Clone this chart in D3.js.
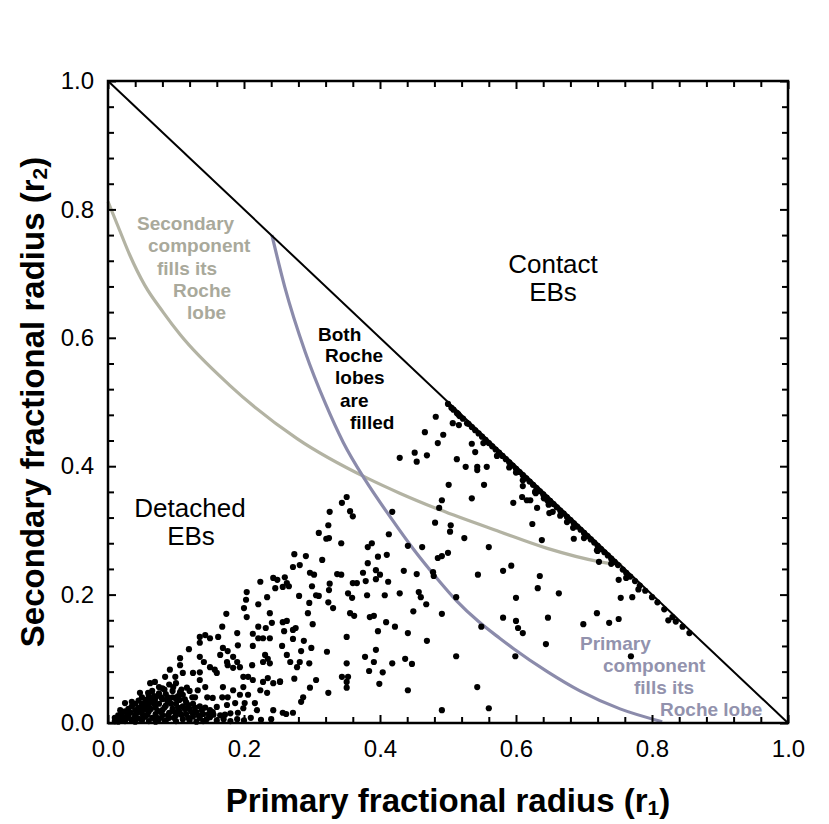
<!DOCTYPE html>
<html>
<head>
<meta charset="utf-8">
<script src="https://cdn.jsdelivr.net/npm/d3@7"></script>
<style>
  html, body { margin: 0; padding: 0; background: #fff; }
  svg { display: block; font-family: "Liberation Sans", Arial, Helvetica, sans-serif; }
</style>
</head>
<body>
<div id="chart"></div>
<script>
// Axis ticks (fractional radius)
const majorTicks = [0, 0.2, 0.4, 0.6, 0.8, 1.0];

// Contact limit r1 + r2 = 1
const contactLine = [[0, 1], [1, 0]];

// Secondary fills its Roche lobe
const secondaryLobe = [
  [0, 0.812], [0.015, 0.773], [0.032, 0.729], [0.054, 0.682], [0.081, 0.640],
  [0.106, 0.605], [0.179, 0.526], [0.278, 0.443], [0.382, 0.381], [0.429, 0.358],
  [0.488, 0.332], [0.576, 0.298], [0.646, 0.272], [0.724, 0.251], [0.756, 0.246]
];

// Primary fills its Roche lobe
const primaryLobe = [
  [0.241, 0.760], [0.260, 0.679], [0.290, 0.578], [0.320, 0.497], [0.346, 0.437],
  [0.378, 0.379], [0.415, 0.321], [0.449, 0.271], [0.484, 0.225], [0.513, 0.190],
  [0.545, 0.158], [0.576, 0.132], [0.596, 0.116], [0.646, 0.080], [0.694, 0.050],
  [0.753, 0.022], [0.815, 0.002]
];

// EBs hugging the contact line
const contactBand = [
  [0.505, 0.491], [0.515, 0.481], [0.522, 0.474], [0.530, 0.466], [0.535, 0.461],
  [0.540, 0.456], [0.545, 0.451], [0.550, 0.446], [0.555, 0.441], [0.560, 0.436],
  [0.565, 0.431], [0.570, 0.426], [0.575, 0.421], [0.580, 0.416], [0.585, 0.411],
  [0.590, 0.406], [0.595, 0.401], [0.600, 0.396], [0.605, 0.391], [0.610, 0.386],
  [0.615, 0.381], [0.620, 0.376], [0.625, 0.371], [0.630, 0.366], [0.635, 0.361],
  [0.640, 0.356], [0.645, 0.351], [0.650, 0.346], [0.655, 0.341], [0.660, 0.336],
  [0.665, 0.331], [0.670, 0.326], [0.675, 0.321], [0.680, 0.316], [0.685, 0.311],
  [0.690, 0.306], [0.695, 0.301], [0.700, 0.296], [0.705, 0.291], [0.710, 0.286],
  [0.715, 0.281], [0.720, 0.276], [0.725, 0.271], [0.730, 0.266], [0.735, 0.261],
  [0.740, 0.256], [0.745, 0.251], [0.750, 0.246], [0.757, 0.239], [0.762, 0.234],
  [0.768, 0.228], [0.775, 0.221], [0.782, 0.214], [0.790, 0.206], [0.800, 0.196],
  [0.808, 0.188], [0.818, 0.177], [0.830, 0.165], [0.845, 0.150], [0.855, 0.140],
  [0.552, 0.436], [0.572, 0.416], [0.590, 0.398], [0.610, 0.378], [0.628, 0.360],
  [0.648, 0.340], [0.665, 0.323], [0.684, 0.304], [0.700, 0.288], [0.720, 0.268],
  [0.740, 0.248], [0.762, 0.226], [0.780, 0.208], [0.600, 0.390], [0.675, 0.313]
];

// EBs in the upper-right part of the cloud
const upperCloud = [
  [0.500, 0.497], [0.508, 0.488], [0.513, 0.483], [0.517, 0.478], [0.482, 0.477],
  [0.507, 0.467], [0.516, 0.464], [0.528, 0.467], [0.466, 0.453], [0.493, 0.449],
  [0.485, 0.436], [0.535, 0.435], [0.540, 0.422], [0.451, 0.421], [0.469, 0.417],
  [0.454, 0.407], [0.429, 0.413], [0.513, 0.411], [0.526, 0.399], [0.543, 0.399],
  [0.557, 0.399], [0.543, 0.394], [0.501, 0.371], [0.553, 0.371], [0.491, 0.347],
  [0.535, 0.350], [0.487, 0.335], [0.481, 0.312], [0.504, 0.308], [0.503, 0.298],
  [0.524, 0.288], [0.560, 0.274], [0.462, 0.274], [0.441, 0.276], [0.485, 0.257],
  [0.491, 0.260], [0.500, 0.265], [0.435, 0.237], [0.454, 0.232], [0.478, 0.235],
  [0.479, 0.229], [0.544, 0.231], [0.581, 0.237], [0.593, 0.245], [0.635, 0.229],
  [0.632, 0.210], [0.610, 0.369], [0.609, 0.352], [0.616, 0.347], [0.621, 0.347],
  [0.629, 0.358], [0.631, 0.363], [0.641, 0.350], [0.646, 0.347], [0.631, 0.335],
  [0.649, 0.327], [0.654, 0.329], [0.596, 0.343], [0.624, 0.310], [0.638, 0.285],
  [0.685, 0.287], [0.719, 0.269], [0.722, 0.251], [0.751, 0.223], [0.754, 0.195],
  [0.771, 0.196], [0.719, 0.171], [0.699, 0.154], [0.737, 0.156], [0.751, 0.162],
  [0.824, 0.160], [0.835, 0.158], [0.663, 0.202], [0.600, 0.195], [0.581, 0.164],
  [0.600, 0.159], [0.603, 0.148], [0.610, 0.140], [0.549, 0.150], [0.647, 0.164],
  [0.644, 0.123], [0.599, 0.104], [0.769, 0.104], [0.560, 0.023]
];

// EBs in the middle of the cloud
const middleCloud = [
  [0.351, 0.352], [0.344, 0.343], [0.326, 0.329], [0.356, 0.330], [0.360, 0.322],
  [0.418, 0.329], [0.324, 0.308], [0.310, 0.296], [0.321, 0.287], [0.325, 0.288],
  [0.343, 0.280], [0.413, 0.294], [0.274, 0.263], [0.291, 0.260], [0.315, 0.254],
  [0.272, 0.243], [0.282, 0.246], [0.388, 0.280], [0.382, 0.274], [0.410, 0.262],
  [0.397, 0.259], [0.382, 0.249], [0.260, 0.227], [0.297, 0.234], [0.303, 0.231],
  [0.337, 0.232], [0.343, 0.231], [0.375, 0.234], [0.394, 0.238], [0.400, 0.231],
  [0.394, 0.224], [0.379, 0.221], [0.360, 0.218], [0.366, 0.218], [0.412, 0.220],
  [0.257, 0.212], [0.266, 0.213], [0.263, 0.218], [0.300, 0.213], [0.326, 0.217],
  [0.325, 0.207], [0.281, 0.198], [0.306, 0.199], [0.310, 0.198], [0.353, 0.202],
  [0.359, 0.195], [0.381, 0.199], [0.407, 0.199], [0.429, 0.202], [0.457, 0.204],
  [0.460, 0.196], [0.468, 0.185], [0.512, 0.196], [0.324, 0.188], [0.331, 0.179],
  [0.296, 0.187], [0.294, 0.171], [0.356, 0.171], [0.362, 0.167], [0.385, 0.165],
  [0.391, 0.167], [0.449, 0.174], [0.409, 0.157], [0.422, 0.150], [0.491, 0.170],
  [0.263, 0.159], [0.257, 0.157], [0.301, 0.154], [0.259, 0.143], [0.272, 0.145],
  [0.276, 0.148], [0.397, 0.143], [0.441, 0.140], [0.351, 0.134], [0.469, 0.128],
  [0.272, 0.131], [0.288, 0.128], [0.256, 0.120], [0.299, 0.117], [0.284, 0.112],
  [0.322, 0.111], [0.394, 0.114], [0.512, 0.104], [0.263, 0.106], [0.378, 0.103],
  [0.391, 0.095], [0.418, 0.093], [0.437, 0.100], [0.447, 0.092], [0.282, 0.095],
  [0.278, 0.087], [0.296, 0.093], [0.351, 0.093], [0.384, 0.081], [0.404, 0.079],
  [0.344, 0.072], [0.353, 0.072], [0.351, 0.064], [0.274, 0.069], [0.306, 0.067],
  [0.253, 0.065], [0.297, 0.055], [0.351, 0.055], [0.399, 0.061], [0.441, 0.051],
  [0.324, 0.047], [0.543, 0.056], [0.287, 0.040], [0.284, 0.033], [0.262, 0.014],
  [0.272, 0.016], [0.491, 0.020]
];

// EBs in the lower-left part of the cloud
const lowerCloud = [
  [0.224, 0.220], [0.243, 0.226], [0.249, 0.223], [0.246, 0.210], [0.204, 0.204],
  [0.203, 0.192], [0.234, 0.196], [0.200, 0.179], [0.221, 0.185], [0.174, 0.170],
  [0.238, 0.171], [0.204, 0.165], [0.241, 0.156], [0.168, 0.150], [0.221, 0.150],
  [0.232, 0.148], [0.190, 0.140], [0.213, 0.139], [0.135, 0.134], [0.143, 0.137],
  [0.150, 0.132], [0.162, 0.134], [0.221, 0.132], [0.228, 0.132], [0.238, 0.132],
  [0.119, 0.115], [0.135, 0.125], [0.191, 0.121], [0.213, 0.120], [0.169, 0.117],
  [0.176, 0.112], [0.184, 0.103], [0.165, 0.106], [0.175, 0.095], [0.190, 0.095],
  [0.194, 0.087], [0.184, 0.086], [0.176, 0.090], [0.212, 0.090], [0.231, 0.106],
  [0.228, 0.095], [0.235, 0.100], [0.238, 0.093], [0.268, 0.095], [0.106, 0.101],
  [0.135, 0.103], [0.141, 0.095], [0.150, 0.087], [0.157, 0.083], [0.160, 0.078],
  [0.106, 0.090], [0.091, 0.083], [0.084, 0.072], [0.099, 0.072], [0.110, 0.078],
  [0.125, 0.078], [0.135, 0.079], [0.135, 0.067], [0.199, 0.072], [0.206, 0.072],
  [0.213, 0.067], [0.228, 0.064], [0.235, 0.070], [0.243, 0.062], [0.253, 0.064],
  [0.224, 0.051], [0.234, 0.047], [0.062, 0.062], [0.069, 0.064], [0.075, 0.056],
  [0.059, 0.047], [0.047, 0.047], [0.096, 0.056], [0.106, 0.048], [0.116, 0.055],
  [0.124, 0.040], [0.088, 0.040], [0.099, 0.039], [0.132, 0.051], [0.143, 0.056],
  [0.146, 0.040], [0.154, 0.039], [0.169, 0.056], [0.184, 0.051], [0.176, 0.040],
  [0.168, 0.040], [0.194, 0.044], [0.199, 0.056], [0.175, 0.028], [0.206, 0.044],
  [0.201, 0.031], [0.216, 0.031], [0.154, 0.017], [0.160, 0.025], [0.187, 0.031],
  [0.199, 0.023], [0.219, 0.020], [0.243, 0.020], [0.191, 0.016], [0.257, 0.016],
  [0.025, 0.031], [0.035, 0.033], [0.018, 0.020], [0.062, 0.033], [0.069, 0.036]
];

// Dense clump near the origin
const originClump = [
  [0.010, 0.003], [0.010, 0.008], [0.015, 0.002], [0.015, 0.012], [0.020, 0.005],
  [0.020, 0.015], [0.020, 0.010], [0.025, 0.003], [0.025, 0.018], [0.030, 0.008],
  [0.030, 0.022], [0.030, 0.014], [0.035, 0.004], [0.035, 0.026], [0.040, 0.012],
  [0.040, 0.020], [0.040, 0.030], [0.040, 0.002], [0.045, 0.007], [0.045, 0.024],
  [0.045, 0.035], [0.050, 0.015], [0.050, 0.030], [0.050, 0.004], [0.050, 0.040],
  [0.055, 0.010], [0.055, 0.022], [0.055, 0.036], [0.060, 0.003], [0.060, 0.018],
  [0.060, 0.028], [0.060, 0.043], [0.065, 0.008], [0.065, 0.034], [0.065, 0.050],
  [0.070, 0.014], [0.070, 0.024], [0.070, 0.040], [0.070, 0.002], [0.075, 0.006],
  [0.075, 0.030], [0.075, 0.046], [0.080, 0.012], [0.080, 0.020], [0.080, 0.037],
  [0.080, 0.054], [0.085, 0.004], [0.085, 0.027], [0.085, 0.045], [0.090, 0.016],
  [0.090, 0.033], [0.090, 0.060], [0.090, 0.008], [0.095, 0.022], [0.095, 0.040],
  [0.095, 0.050], [0.100, 0.003], [0.100, 0.012], [0.100, 0.030], [0.100, 0.062],
  [0.105, 0.018], [0.105, 0.036], [0.110, 0.006], [0.110, 0.026], [0.110, 0.044],
  [0.115, 0.014], [0.115, 0.032], [0.120, 0.004], [0.120, 0.022], [0.120, 0.050],
  [0.125, 0.010], [0.125, 0.030], [0.130, 0.017], [0.130, 0.002], [0.135, 0.008],
  [0.135, 0.026], [0.140, 0.014], [0.140, 0.003], [0.150, 0.009], [0.150, 0.020],
  [0.160, 0.004], [0.165, 0.012], [0.170, 0.006], [0.180, 0.003], [0.180, 0.015],
  [0.190, 0.006], [0.200, 0.004], [0.210, 0.008], [0.225, 0.005], [0.240, 0.006],
  [0.012, 0.006], [0.018, 0.004], [0.022, 0.008], [0.028, 0.012], [0.033, 0.016],
  [0.038, 0.007], [0.043, 0.016], [0.048, 0.022], [0.052, 0.009], [0.058, 0.013],
  [0.063, 0.022], [0.068, 0.030], [0.072, 0.008], [0.078, 0.017], [0.083, 0.024],
  [0.088, 0.012], [0.093, 0.030], [0.097, 0.008], [0.103, 0.024], [0.108, 0.013],
  [0.113, 0.022], [0.118, 0.008], [0.123, 0.017], [0.128, 0.024], [0.133, 0.012],
  [0.138, 0.020], [0.145, 0.006], [0.155, 0.013], [0.172, 0.013], [0.058, 0.032],
  [0.078, 0.040], [0.083, 0.052], [0.068, 0.042], [0.108, 0.052], [0.128, 0.040],
  [0.053, 0.027], [0.063, 0.038], [0.073, 0.019], [0.087, 0.035], [0.098, 0.017],
  [0.103, 0.042], [0.113, 0.037], [0.118, 0.028], [0.143, 0.024], [0.148, 0.014]
];

const ebPoints = [].concat(contactBand, upperCloud, middleCloud, lowerCloud, originClump);

const width = 829, height = 824;
const plot = { left: 108, right: 788, top: 81, bottom: 723 };

const svg = d3.select('#chart').append('svg')
  .attr('width', width)
  .attr('height', height);

const x = d3.scaleLinear().domain([0, 1]).range([plot.left, plot.right]);
const y = d3.scaleLinear().domain([0, 1]).range([plot.bottom, plot.top]);

const GRAY = '#b3b3a3', GRAY_TEXT = '#a9a99b';
const PURPLE = '#8b8bab', PURPLE_TEXT = '#9292ad';

// Curves
const line = d3.line().x(d => x(d[0])).y(d => y(d[1]));
const smooth = d3.line().x(d => x(d[0])).y(d => y(d[1])).curve(d3.curveMonotoneX);

svg.append('path').attr('d', smooth(secondaryLobe))
  .attr('fill', 'none').attr('stroke', GRAY).attr('stroke-width', 3.2);
svg.append('path').attr('d', smooth(primaryLobe))
  .attr('fill', 'none').attr('stroke', PURPLE).attr('stroke-width', 3.2);
svg.append('path').attr('d', line(contactLine))
  .attr('fill', 'none').attr('stroke', '#000').attr('stroke-width', 2);

// Points
svg.append('g').selectAll('circle')
  .data(ebPoints)
  .join('circle')
  .attr('cx', d => x(d[0]))
  .attr('cy', d => y(d[1]))
  .attr('r', 3.1)
  .attr('fill', '#000');

// Axes: ticks inward on all four sides
const minorTicks = d3.range(0, 1.0001, 0.04).filter(v => !majorTicks.some(t => Math.abs(t - v) < 1e-6));
const fmt = d3.format('.1f');

function styleAxis(g) {
  g.attr('font-size', null).attr('font-family', null);
  g.select('.domain').remove();
  g.selectAll('.tick line').attr('stroke', '#000').attr('stroke-width', 2);
  g.selectAll('.tick text').attr('fill', '#000').style('font-size', '24px');
}

function addAxis(axis, transform, values, size, format, padding) {
  svg.append('g')
    .attr('transform', transform)
    .call(axis.tickValues(values).tickSize(size).tickPadding(padding || 3).tickFormat(format))
    .call(styleAxis);
}

const bottomT = `translate(0,${plot.bottom})`, topT = `translate(0,${plot.top})`;
const leftT = `translate(${plot.left},0)`, rightT = `translate(${plot.right},0)`;

addAxis(d3.axisBottom(x), bottomT, majorTicks, -8, fmt, 17);
addAxis(d3.axisBottom(x), bottomT, minorTicks, -6, '');
addAxis(d3.axisLeft(y), leftT, majorTicks, -8, fmt, 14);
addAxis(d3.axisLeft(y), leftT, minorTicks, -6, '');
addAxis(d3.axisTop(x), topT, majorTicks, -8, '');
addAxis(d3.axisTop(x), topT, minorTicks, -6, '');
addAxis(d3.axisRight(y), rightT, majorTicks, -8, '');
addAxis(d3.axisRight(y), rightT, minorTicks, -6, '');

// Frame
svg.append('rect')
  .attr('x', plot.left).attr('y', plot.top)
  .attr('width', plot.right - plot.left).attr('height', plot.bottom - plot.top)
  .attr('fill', 'none').attr('stroke', '#000').attr('stroke-width', 2.5);

// Axis titles
const xTitle = svg.append('text')
  .attr('x', (plot.left + plot.right) / 2).attr('y', 812)
  .attr('text-anchor', 'middle')
  .style('font-size', '33px').style('font-weight', 'bold');
xTitle.append('tspan').text('Primary fractional radius (r');
xTitle.append('tspan').text('1').style('font-size', '21px').attr('dy', 3);
xTitle.append('tspan').text(')').attr('dy', -3);

const yTitle = svg.append('text')
  .attr('transform', `translate(44,${(plot.top + plot.bottom) / 2}) rotate(-90)`)
  .attr('text-anchor', 'middle')
  .style('font-size', '33px').style('font-weight', 'bold');
yTitle.append('tspan').text('Secondary fractional radius (r');
yTitle.append('tspan').text('2').style('font-size', '21px').attr('dy', 3);
yTitle.append('tspan').text(')').attr('dy', -3);

// Region annotations
function label(lines, opts) {
  const g = svg.append('g')
    .style('font-size', opts.size + 'px')
    .style('font-weight', opts.bold ? 'bold' : 'normal')
    .attr('fill', opts.color);
  lines.forEach(l => {
    g.append('text').attr('x', l[1]).attr('y', l[2])
      .attr('text-anchor', opts.anchor || 'start').text(l[0]);
  });
}

label([['Secondary', 137, 230], ['component', 148, 252], ['fills its', 157, 275], ['Roche', 173, 297], ['lobe', 187, 319]],
  { size: 19, bold: true, color: GRAY_TEXT });
label([['Both', 318, 341], ['Roche', 325, 362], ['lobes', 335, 384], ['are', 340, 407], ['filled', 350, 429]],
  { size: 19, bold: true, color: '#000' });
label([['Primary', 580, 650], ['component', 603, 672], ['fills its', 634, 694], ['Roche lobe', 660, 716]],
  { size: 19, bold: true, color: PURPLE_TEXT });
label([['Contact', 553, 273], ['EBs', 553, 301]], { size: 26, color: '#000', anchor: 'middle' });
label([['Detached', 190, 517], ['EBs', 191, 545]], { size: 26, color: '#000', anchor: 'middle' });
</script>
</body>
</html>
